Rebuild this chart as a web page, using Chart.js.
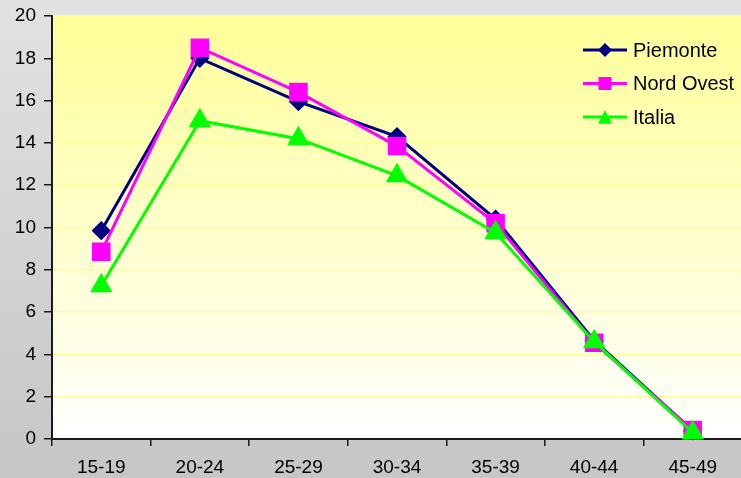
<!DOCTYPE html>
<html>
<head>
<meta charset="utf-8">
<script src="https://cdn.jsdelivr.net/npm/chart.js@4.4.1/dist/chart.umd.min.js"></script>
<style>
html,body{margin:0;padding:0;overflow:hidden;background:#d0d0d0;}
#wrap{width:756px;height:478px;position:relative;}
</style>
</head>
<body>
<div id="wrap"><canvas id="c"></canvas></div>
<script>
const categories = ['15-19','20-24','25-29','30-34','35-39','40-44','45-49'];
const piemonte  = [9.85, 18.0, 15.95, 14.3, 10.4, 4.65, 0.38];
const nordOvest = [8.85, 18.5, 16.4, 13.85, 10.2, 4.55, 0.42];
const italia    = [7.25, 15.05, 14.2, 12.45, 9.75, 4.6, 0.3];
const yTicks = [0,2,4,6,8,10,12,14,16,18,20];

Chart.defaults.font.family = "'Liberation Sans', Arial, sans-serif";
Chart.defaults.color = '#000';

const bgPlugin = {
  id: 'bg',
  beforeDraw(chart) {
    const {ctx, chartArea: a, width, height} = chart;
    ctx.save();
    let g = ctx.createLinearGradient(0, 0, 0, height);
    g.addColorStop(0, '#e2e2e2');
    g.addColorStop(1, '#c6c6c6');
    ctx.fillStyle = g;
    ctx.fillRect(0, 0, width, height);
    g = ctx.createLinearGradient(0, a.top, 0, a.bottom);
    g.addColorStop(0, '#ffff99');
    g.addColorStop(1, '#ffffff');
    ctx.fillStyle = g;
    ctx.fillRect(a.left, a.top, a.right - a.left, a.bottom - a.top);
    ctx.restore();
  }
};

function marker(ctx, style, x, y, r, color) {
  ctx.fillStyle = color;
  ctx.beginPath();
  if (style === 'rectRot') {
    ctx.moveTo(x, y - r); ctx.lineTo(x + r, y); ctx.lineTo(x, y + r); ctx.lineTo(x - r, y);
  } else if (style === 'rect') {
    ctx.rect(x - r, y - r, 2 * r, 2 * r);
  } else {
    ctx.moveTo(x, y - r); ctx.lineTo(x + r, y + r * 0.95); ctx.lineTo(x - r, y + r * 0.95);
  }
  ctx.closePath();
  ctx.fill();
}

const legendPlugin = {
  id: 'customLegend',
  afterDraw(chart) {
    const ctx = chart.ctx;
    const sizes = {rectRot: 7, rect: 6.5, triangle: 7};
    ctx.save();
    chart.data.datasets.forEach((ds, i) => {
      const y = 50 + i * 33.5;
      ctx.strokeStyle = ds.borderColor;
      ctx.lineWidth = 3;
      ctx.beginPath();
      ctx.moveTo(583, y); ctx.lineTo(627, y);
      ctx.stroke();
      marker(ctx, ds.pointStyle, 605, y, sizes[ds.pointStyle], ds.borderColor);
      ctx.fillStyle = '#000';
      ctx.font = "20px 'Liberation Sans', Arial, sans-serif";
      ctx.textBaseline = 'middle';
      ctx.textAlign = 'left';
      ctx.fillText(ds.label, 633, y + 1);
    });
    ctx.restore();
  }
};

new Chart(document.getElementById('c'), {
  type: 'line',
  data: {
    labels: categories,
    datasets: [
      {label: 'Piemonte', data: piemonte, borderColor: '#000080', backgroundColor: '#000080',
       pointStyle: 'rectRot', pointRadius: 7.5, borderWidth: 3, order: 3, clip: false},
      {label: 'Nord Ovest', data: nordOvest, borderColor: '#ff00ff', backgroundColor: '#ff00ff',
       pointStyle: 'rect', pointRadius: 11, borderWidth: 3, order: 2, clip: false},
      {label: 'Italia', data: italia, borderColor: '#00ff00', backgroundColor: '#00ff00',
       pointStyle: 'triangle', pointRadius: 10, borderWidth: 3, order: 1, clip: false}
    ]
  },
  options: {
    responsive: true,
    maintainAspectRatio: false,
    devicePixelRatio: 1,
    animation: false,
    layout: {padding: {top: 16, left: 0, right: 0, bottom: 0}},
    elements: {line: {tension: 0}, point: {borderWidth: 0, hoverRadius: 10}},
    plugins: {legend: {display: false}, tooltip: {enabled: false}},
    scales: {
      x: {
        offset: true,
        grid: {offset: true, drawOnChartArea: false, drawTicks: true, tickLength: 7,
               tickColor: '#1a1a1a', lineWidth: 1.5},
        border: {display: true, color: '#1a1a1a', width: 2},
        ticks: {font: {size: 19}, color: '#000', padding: 10, maxRotation: 0, autoSkip: false},
        afterFit(s) { s.height = 39; s.paddingLeft = 0; s.paddingRight = 0; }
      },
      y: {
        min: 0, max: 20,
        afterBuildTicks(s) { s.ticks = yTicks.map(v => ({value: v})); },
        grid: {color: '#ffff99', lineWidth: 1.5, tickLength: 8, tickColor: '#1a1a1a', drawTicks: true},
        border: {display: true, color: '#1a1a1a', width: 2},
        ticks: {font: {size: 19}, color: '#000', padding: 8},
        afterFit(s) { s.width = 52; s.paddingTop = 0; s.paddingBottom = 0; }
      }
    }
  },
  plugins: [bgPlugin, legendPlugin]
});
</script>
</body>
</html>
